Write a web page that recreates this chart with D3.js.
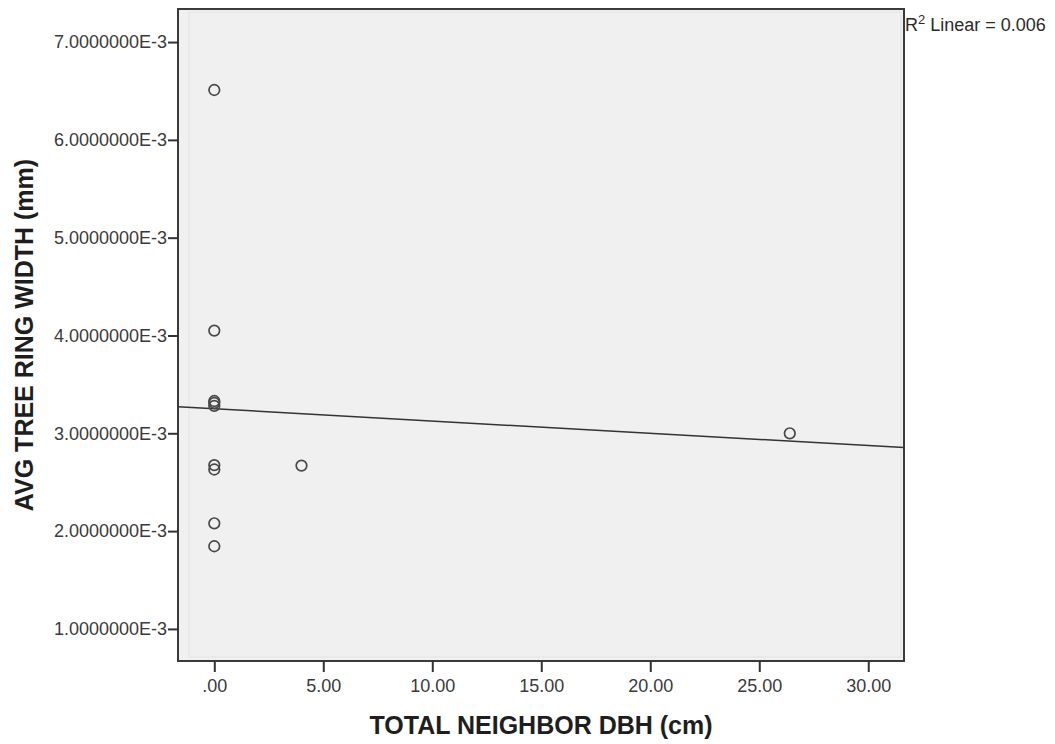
<!DOCTYPE html>
<html>
<head>
<meta charset="utf-8">
<script src="https://cdn.jsdelivr.net/npm/d3@7"></script>
<style>
  body { margin: 0; background: #fff; }
  svg { display: block; font-family: "Liberation Sans", Arial, sans-serif; }
</style>
</head>
<body>
<svg width="1055" height="744"></svg>
<script>
// TOTAL NEIGHBOR DBH (cm)
const neighborDbh = [0, 0, 0, 0, 0, 0, 0, 0, 0, 4.0, 26.4];
// AVG TREE RING WIDTH (mm)
const ringWidth = [
  0.00651, 0.00405, 0.00333, 0.00331, 0.00328, 0.002675, 0.00263, 0.00208, 0.001845,
  0.00267, 0.0030
];
const xTicks = [0, 5, 10, 15, 20, 25, 30];
const yTicks = [0.001, 0.002, 0.003, 0.004, 0.005, 0.006, 0.007];
const rSquaredLabel = "0.006";

const svg = d3.select("svg");
const margin = { left: 178, top: 9, right: 151, bottom: 83 };
const width = 1055 - margin.left - margin.right;
const height = 744 - margin.top - margin.bottom;

const x = d3.scaleLinear().domain([-1.665, 31.64]).range([0, width]);
const y = d3.scaleLinear().domain([0.000672, 0.007338]).range([height, 0]);

const g = svg.append("g").attr("transform", `translate(${margin.left},${margin.top})`);

g.append("rect")
  .attr("width", width)
  .attr("height", height)
  .attr("fill", "#f0f0f0");

// faint inner frame seen in SPSS output
g.append("rect")
  .attr("x", 11)
  .attr("y", 3)
  .attr("width", width - 14)
  .attr("height", height - 7)
  .attr("fill", "none")
  .attr("stroke", "#e3e3e3")
  .attr("stroke-width", 1);

g.append("clipPath").attr("id", "plotclip")
  .append("rect").attr("width", width).attr("height", height);

// least squares fit line
const points = neighborDbh.map((v, i) => ({ x: v, y: ringWidth[i] }));
const mx = d3.mean(points, (d) => d.x);
const my = d3.mean(points, (d) => d.y);
const sxy = d3.sum(points, (d) => (d.x - mx) * (d.y - my));
const sxx = d3.sum(points, (d) => (d.x - mx) * (d.x - mx));
const slope = sxy / sxx;
const intercept = my - slope * mx;
const [x0, x1] = x.domain();

g.append("line")
  .attr("clip-path", "url(#plotclip)")
  .attr("x1", x(x0))
  .attr("y1", y(intercept + slope * x0))
  .attr("x2", x(x1))
  .attr("y2", y(intercept + slope * x1))
  .attr("stroke", "#333")
  .attr("stroke-width", 1.5);

g.append("g")
  .selectAll("circle")
  .data(points)
  .enter()
  .append("circle")
  .attr("cx", (d) => x(d.x))
  .attr("cy", (d) => y(d.y))
  .attr("r", 5.3)
  .attr("fill", "none")
  .attr("stroke", "#484848")
  .attr("stroke-width", 1.7);

g.append("rect")
  .attr("width", width)
  .attr("height", height)
  .attr("fill", "none")
  .attr("stroke", "#3a3a3a")
  .attr("stroke-width", 2);

const xAxis = g.append("g")
  .attr("transform", `translate(0,${height})`)
  .call(
    d3.axisBottom(x)
      .tickValues(xTicks)
      .tickSize(11)
      .tickSizeOuter(0)
      .tickPadding(7)
      .tickFormat((d) => d3.format(".2f")(d).replace(/^0\./, "."))
  );

const yAxis = g.append("g")
  .call(
    d3.axisLeft(y)
      .tickValues(yTicks)
      .tickSize(10)
      .tickSizeOuter(0)
      .tickPadding(1)
      .tickFormat((d) => (d * 1000).toFixed(7) + "E-3")
  );

[xAxis, yAxis].forEach((a) => {
  a.select(".domain").remove();
  a.selectAll(".tick line").attr("stroke", "#333").attr("stroke-width", 2);
  a.selectAll(".tick text")
    .attr("fill", "#3a3a3a")
    .style("font-size", "18px")
    .style("font-family", "'Liberation Sans', Arial, sans-serif");
});

svg.append("text")
  .attr("x", margin.left + width / 2)
  .attr("y", 734)
  .attr("text-anchor", "middle")
  .attr("fill", "#1e1e1e")
  .style("font-size", "25px")
  .style("font-weight", "bold")
  .text("TOTAL NEIGHBOR DBH (cm)");

svg.append("text")
  .attr("transform", `translate(33,${margin.top + height / 2}) rotate(-90)`)
  .attr("text-anchor", "middle")
  .attr("fill", "#1e1e1e")
  .style("font-size", "25px")
  .style("font-weight", "bold")
  .text("AVG TREE RING WIDTH (mm)");

const r2 = svg.append("text")
  .attr("x", margin.left + width + 1)
  .attr("y", 31)
  .attr("fill", "#2a2a2a")
  .style("font-size", "18px");
r2.append("tspan").text("R");
r2.append("tspan").attr("dy", -7).style("font-size", "13px").text("2");
r2.append("tspan").attr("dy", 7).text(" Linear = " + rSquaredLabel);
</script>
</body>
</html>
